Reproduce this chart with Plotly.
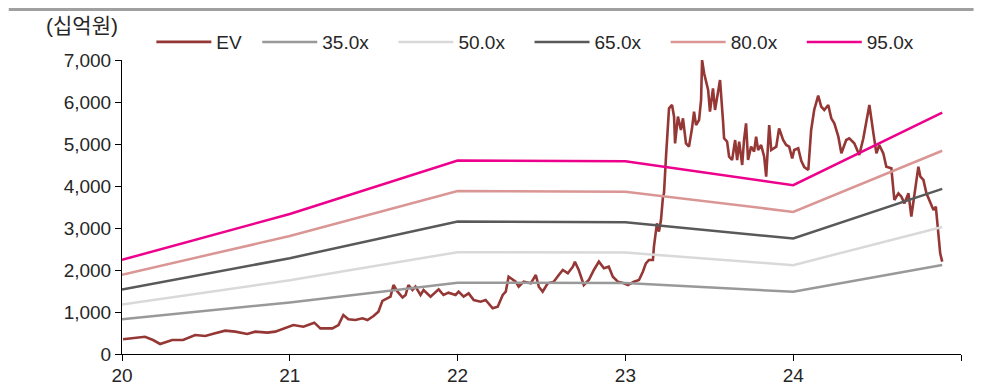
import plotly.graph_objects as go

# ---- data ----
band_year = [20.0, 21.0, 22.0, 23.0, 24.0, 24.888]
earnings = [23.6, 35.1, 48.5, 48.3, 42.3, 60.5]  # 십억원 per 1x multiple
multiples = [35.0, 50.0, 65.0, 80.0, 95.0]
band_names = ["35.0x", "50.0x", "65.0x", "80.0x", "95.0x"]
band_colors = ["#999999", "#D9D9D9", "#595959", "#DA9694", "#EC008C"]

ev_year = [
    20.006, 20.078, 20.137, 20.185, 20.227, 20.299, 20.364, 20.436, 20.496, 20.555,
    20.615, 20.675, 20.746, 20.794, 20.866, 20.913, 20.973, 21.021, 21.081, 21.146,
    21.182, 21.254, 21.290, 21.319, 21.349, 21.391, 21.433, 21.463, 21.499, 21.528,
    21.552, 21.582, 21.600, 21.618, 21.642, 21.672, 21.690, 21.707, 21.731, 21.749,
    21.779, 21.797, 21.839, 21.887, 21.916, 21.946, 21.988, 22.006, 22.036, 22.066,
    22.096, 22.137, 22.167, 22.209, 22.239, 22.269, 22.287, 22.304, 22.328, 22.346,
    22.364, 22.394, 22.436, 22.466, 22.484, 22.507, 22.537, 22.573, 22.603, 22.627,
    22.657, 22.687, 22.699, 22.722, 22.752, 22.782, 22.812, 22.842, 22.872, 22.901,
    22.925, 22.955, 22.991, 23.015, 23.051, 23.081, 23.104, 23.122, 23.140, 23.164,
    23.170, 23.188, 23.200, 23.212, 23.224, 23.230, 23.242, 23.254, 23.260, 23.278,
    23.290, 23.296, 23.313, 23.331, 23.343, 23.361, 23.379, 23.397, 23.409, 23.421,
    23.439, 23.451, 23.457, 23.469, 23.481, 23.493, 23.504, 23.522, 23.534, 23.552,
    23.564, 23.582, 23.588, 23.606, 23.618, 23.636, 23.654, 23.666, 23.678, 23.696,
    23.707, 23.719, 23.731, 23.749, 23.767, 23.779, 23.791, 23.809, 23.827, 23.839,
    23.857, 23.869, 23.887, 23.899, 23.916, 23.940, 23.958, 23.976, 23.994, 24.006,
    24.030, 24.048, 24.066, 24.090, 24.107, 24.125, 24.149, 24.167, 24.185, 24.209,
    24.227, 24.245, 24.269, 24.287, 24.316, 24.334, 24.364, 24.394, 24.418, 24.436,
    24.454, 24.478, 24.496, 24.513, 24.537, 24.555, 24.585, 24.597, 24.603, 24.627,
    24.645, 24.663, 24.687, 24.704, 24.722, 24.746, 24.758, 24.776, 24.794, 24.812,
    24.836, 24.850, 24.862, 24.876, 24.888,
]
ev_value = [
    350, 390, 410, 333, 238, 333, 333, 452, 428, 492,
    556, 532, 476, 532, 508, 532, 611, 690, 651, 746,
    611, 611, 690, 929, 825, 810, 849, 810, 905, 1008,
    1266, 1325, 1365, 1643, 1484, 1345, 1405, 1643, 1524, 1603,
    1405, 1524, 1365, 1540, 1405, 1460, 1405, 1484, 1365, 1444,
    1286, 1246, 1286, 1087, 1127, 1405, 1484, 1841, 1762, 1722,
    1603, 1722, 1683, 1881, 1603, 1484, 1683, 1722, 1881, 2000,
    1921, 2079, 2198, 2000, 1643, 1762, 2000, 2198, 2040, 2079,
    1841, 1722, 1683, 1643, 1722, 1762, 1960, 2159, 2238, 2238,
    2555, 3111, 2913, 3190, 3746, 3825, 4698, 5412, 5849, 5929,
    5651, 5016, 5651, 5333, 5611, 5016, 4937, 5373, 5770, 5452,
    5571, 6048, 7000, 6683, 6444, 6286, 5770, 6325, 5810, 6206,
    6524, 5532, 5135, 5056, 4698, 4619, 5095, 4619, 5056, 4500,
    5095, 5492, 4619, 4937, 4817, 5175, 4857, 4976, 4698, 4222,
    5452, 4857, 4896, 4937, 5373, 5095, 4976, 4937, 4659, 4857,
    4896, 4600, 4450, 4381, 5333, 5810, 6150, 5889, 5810, 5929,
    5611, 5492, 5175, 4778, 5095, 5135, 5016, 4738, 5135, 5571,
    5929, 5254, 4778, 4976, 4778, 4460, 4421, 3905, 3667, 3825,
    3746, 3587, 3825, 3270, 3825, 4460, 4222, 4143, 3825, 3667,
    3429, 3508, 3032, 2397, 2198,
]

x_tickvals = [20, 21, 22, 23, 24, 25]
x_ticktext = ["20", "21", "22", "23", "24", ""]
y_tickvals = [0, 1000, 2000, 3000, 4000, 5000, 6000, 7000]

FONT = "Liberation Sans, Noto Sans CJK KR, sans-serif"
FS = 19
NB = "\u00a0"
THIN = "\u2009"

fig = go.Figure()
fig.add_trace(go.Scatter(x=ev_year, y=ev_value, mode="lines", name="EV" + NB * 2,
                         line=dict(color="#953735", width=2.6)))
for m, nm, col in zip(multiples, band_names, band_colors):
    fig.add_trace(go.Scatter(x=band_year, y=[m * e for e in earnings], mode="lines",
                             name=nm + NB * 3 + THIN, line=dict(color=col, width=2.5)))

fig.update_layout(
    width=982, height=386,
    margin=dict(l=122, r=21, t=60, b=32, autoexpand=False),
    paper_bgcolor="white", plot_bgcolor="white",
    font=dict(family=FONT, size=FS, color="#262626"),
    showlegend=True,
    legend=dict(orientation="h", x=0.035, xanchor="left", y=1.061, yanchor="middle",
                font=dict(size=FS, color="#262626"), itemwidth=55,
                bgcolor="rgba(0,0,0,0)", traceorder="normal"),
    xaxis=dict(range=[20, 25], tickvals=x_tickvals, ticktext=x_ticktext,
               showgrid=False, zeroline=False, showline=True, linecolor="black",
               linewidth=1, ticks="outside", ticklen=6, tickcolor="black",
               tickfont=dict(size=FS), ticklabelstandoff=-2),
    yaxis=dict(range=[0, 7000], tickvals=y_tickvals, tickformat=",",
               showgrid=False, zeroline=False, showline=True, linecolor="black",
               linewidth=1, ticks="outside", ticklen=6, tickcolor="black",
               tickfont=dict(size=FS)),
    annotations=[dict(text="(십억원)", xref="paper", yref="paper", x=-0.093, y=1.116,
                      xanchor="left", yanchor="middle", showarrow=False,
                      font=dict(size=21, color="#262626"))],
    shapes=[dict(type="line", xref="paper", yref="paper", x0=-0.135, x1=1.015,
                 y0=1.172, y1=1.172, line=dict(color="#A0A0A0", width=3))],
)

fig.write_html("out.html")
